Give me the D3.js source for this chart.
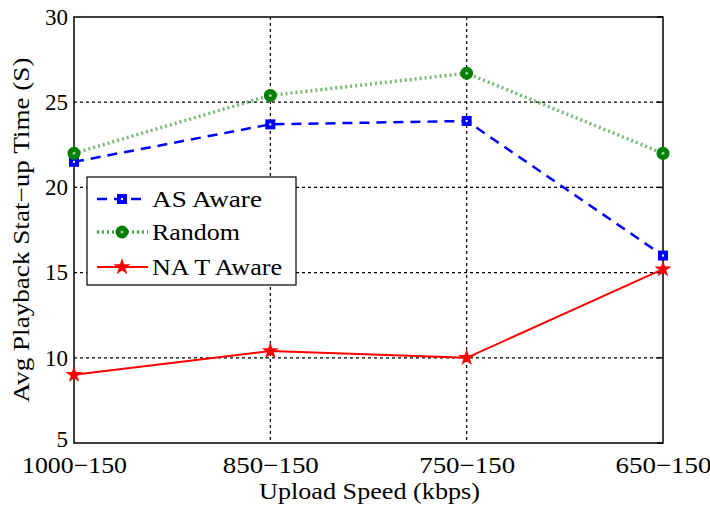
<!DOCTYPE html>
<html>
<head>
<meta charset="utf-8">
<script src="https://cdn.jsdelivr.net/npm/d3@7"></script>
<style>
  body { margin: 0; background: #fff; }
  text { font-family: "Liberation Serif", "DejaVu Serif", serif; fill: #000; }
</style>
</head>
<body>
<div id="chart"></div>
<script>
// categories on the x axis
const categories = ["1000\u2212150", "850\u2212150", "750\u2212150", "650\u2212150"];
// series values
const asAware = [21.5, 23.7, 23.9, 16.0];
const randomSel = [22.0, 25.4, 26.7, 22.0];
const natAware = [9.0, 10.4, 10.0, 15.2];
const yTicks = [5, 10, 15, 20, 25, 30];

const series = [
  { name: "AS Aware", values: asAware, color: "#0000ff", dash: "10,7", width: 2.5, marker: "square", len: 110 },
  { name: "Random", values: randomSel, color: "#1a8a1a", dash: "2,3", width: 3.5, marker: "circle", len: 88 },
  { name: "NA T Aware", values: natAware, color: "#ff0000", dash: null, width: 2, marker: "star", len: 130 }
];

const width = 710, height = 506;
const margin = { top: 17, right: 47, bottom: 63, left: 74 };

const svg = d3.select("#chart").append("svg")
  .attr("width", width)
  .attr("height", height);

const x = d3.scalePoint()
  .domain(categories)
  .range([margin.left, width - margin.right]);

const y = d3.scaleLinear()
  .domain([5, 30])
  .range([height - margin.bottom, margin.top]);

// grid
svg.append("g")
  .selectAll("line.vgrid")
  .data(categories.slice(1, -1))
  .enter().append("line")
  .attr("x1", d => x(d)).attr("x2", d => x(d))
  .attr("y1", y(30)).attr("y2", y(5))
  .style("stroke", "#000").style("stroke-width", 1.2)
  .style("stroke-dasharray", "3,3");

svg.append("g")
  .selectAll("line.hgrid")
  .data(yTicks.slice(1, -1))
  .enter().append("line")
  .attr("x1", x.range()[0]).attr("x2", x.range()[1])
  .attr("y1", d => y(d)).attr("y2", d => y(d))
  .style("stroke", "#000").style("stroke-width", 1.2)
  .style("stroke-dasharray", "3,3");

// frame
svg.append("rect")
  .attr("x", x.range()[0]).attr("y", y(30))
  .attr("width", x.range()[1] - x.range()[0])
  .attr("height", y(5) - y(30))
  .style("fill", "none").style("stroke", "#000").style("stroke-width", 1.5);

// axes
const yAxis = svg.append("g")
  .attr("transform", `translate(${margin.left},0)`)
  .call(d3.axisLeft(y).tickValues(yTicks).tickSize(0).tickPadding(6));
yAxis.select(".domain").remove();
yAxis.selectAll("text").style("font-size", "23px")
  .attr("font-family", "Liberation Serif")
  .attr("dy", d => d === 5 ? "0.15em" : "0.32em");
// inner tick marks on right side
svg.append("g").selectAll("line")
  .data(yTicks)
  .enter().append("line")
  .attr("x1", x.range()[1] - 6).attr("x2", x.range()[1])
  .attr("y1", d => y(d)).attr("y2", d => y(d))
  .style("stroke", "#000").style("stroke-width", 1.5);

const xAxis = svg.append("g")
  .attr("transform", `translate(0,${height - margin.bottom})`)
  .call(d3.axisBottom(x).tickSize(0).tickPadding(14));
xAxis.select(".domain").remove();
xAxis.selectAll("text").style("font-size", "23px")
  .attr("font-family", "Liberation Serif")
  .attr("textLength", (d, i) => i === 0 ? 105 : 96)
  .attr("lengthAdjust", "spacingAndGlyphs");

// axis titles
svg.append("text")
  .attr("x", (x.range()[0] + x.range()[1]) / 2 + 1)
  .attr("y", 499)
  .attr("text-anchor", "middle")
  .attr("textLength", 221)
  .attr("lengthAdjust", "spacingAndGlyphs")
  .style("font-size", "23px")
  .text("Upload Speed (kbps)");

svg.append("text")
  .attr("transform", `translate(29,${(y(5) + y(30)) / 2}) rotate(-90)`)
  .attr("text-anchor", "middle")
  .attr("textLength", 345)
  .attr("lengthAdjust", "spacingAndGlyphs")
  .style("font-size", "23px")
  .text("Avg Playback Stat\u2212up Time (S)");

// lines
const line = d3.line()
  .x((d, i) => x(categories[i]))
  .y(d => y(d));

function drawMarker(g, type, color, cx, cy) {
  if (type === "square") {
    g.append("rect").attr("x", cx - 5).attr("y", cy - 5).attr("width", 10).attr("height", 10)
      .style("fill", color);
    g.append("rect").attr("x", cx - 1).attr("y", cy - 1).attr("width", 2).attr("height", 2)
      .style("fill", "#fff");
  } else if (type === "circle") {
    g.append("circle").attr("cx", cx).attr("cy", cy).attr("r", 6.5).style("fill", "#008000");
    g.append("circle").attr("cx", cx).attr("cy", cy).attr("r", 1.5).style("fill", "#9c9");
  } else {
    g.append("path")
      .attr("transform", `translate(${cx},${cy})`)
      .attr("d", d3.symbol().type(d3.symbolStar).size(90)())
      .style("fill", color);
  }
}

series.forEach(s => {
  svg.append("path")
    .datum(s.values)
    .attr("d", line)
    .style("fill", "none")
    .style("stroke", s.color)
    .style("stroke-width", s.width)
    .style("stroke-dasharray", s.dash)
    .style("opacity", s.marker === "circle" ? 0.6 : 1);
  const g = svg.append("g");
  s.values.forEach((v, i) => drawMarker(g, s.marker, s.color, x(categories[i]), y(v)));
});

// legend
const lg = svg.append("g");
lg.append("rect")
  .attr("x", 87).attr("y", 177).attr("width", 209).attr("height", 108)
  .style("fill", "#fff").style("stroke", "#000").style("stroke-width", 1.2);

const rowY = [199, 232, 267];
series.forEach((s, i) => {
  lg.append("line")
    .attr("x1", 97).attr("x2", 148)
    .attr("y1", rowY[i]).attr("y2", rowY[i])
    .style("stroke", s.color)
    .style("stroke-width", s.width)
    .style("stroke-dasharray", s.dash)
    .style("opacity", s.marker === "circle" ? 0.8 : 1);
  drawMarker(lg, s.marker, s.color, 122, rowY[i]);
  lg.append("text")
    .attr("x", 152).attr("y", rowY[i] + 8)
    .attr("textLength", s.len)
    .attr("lengthAdjust", "spacingAndGlyphs")
    .style("font-size", "23px")
    .text(s.name);
});
</script>
</body>
</html>
